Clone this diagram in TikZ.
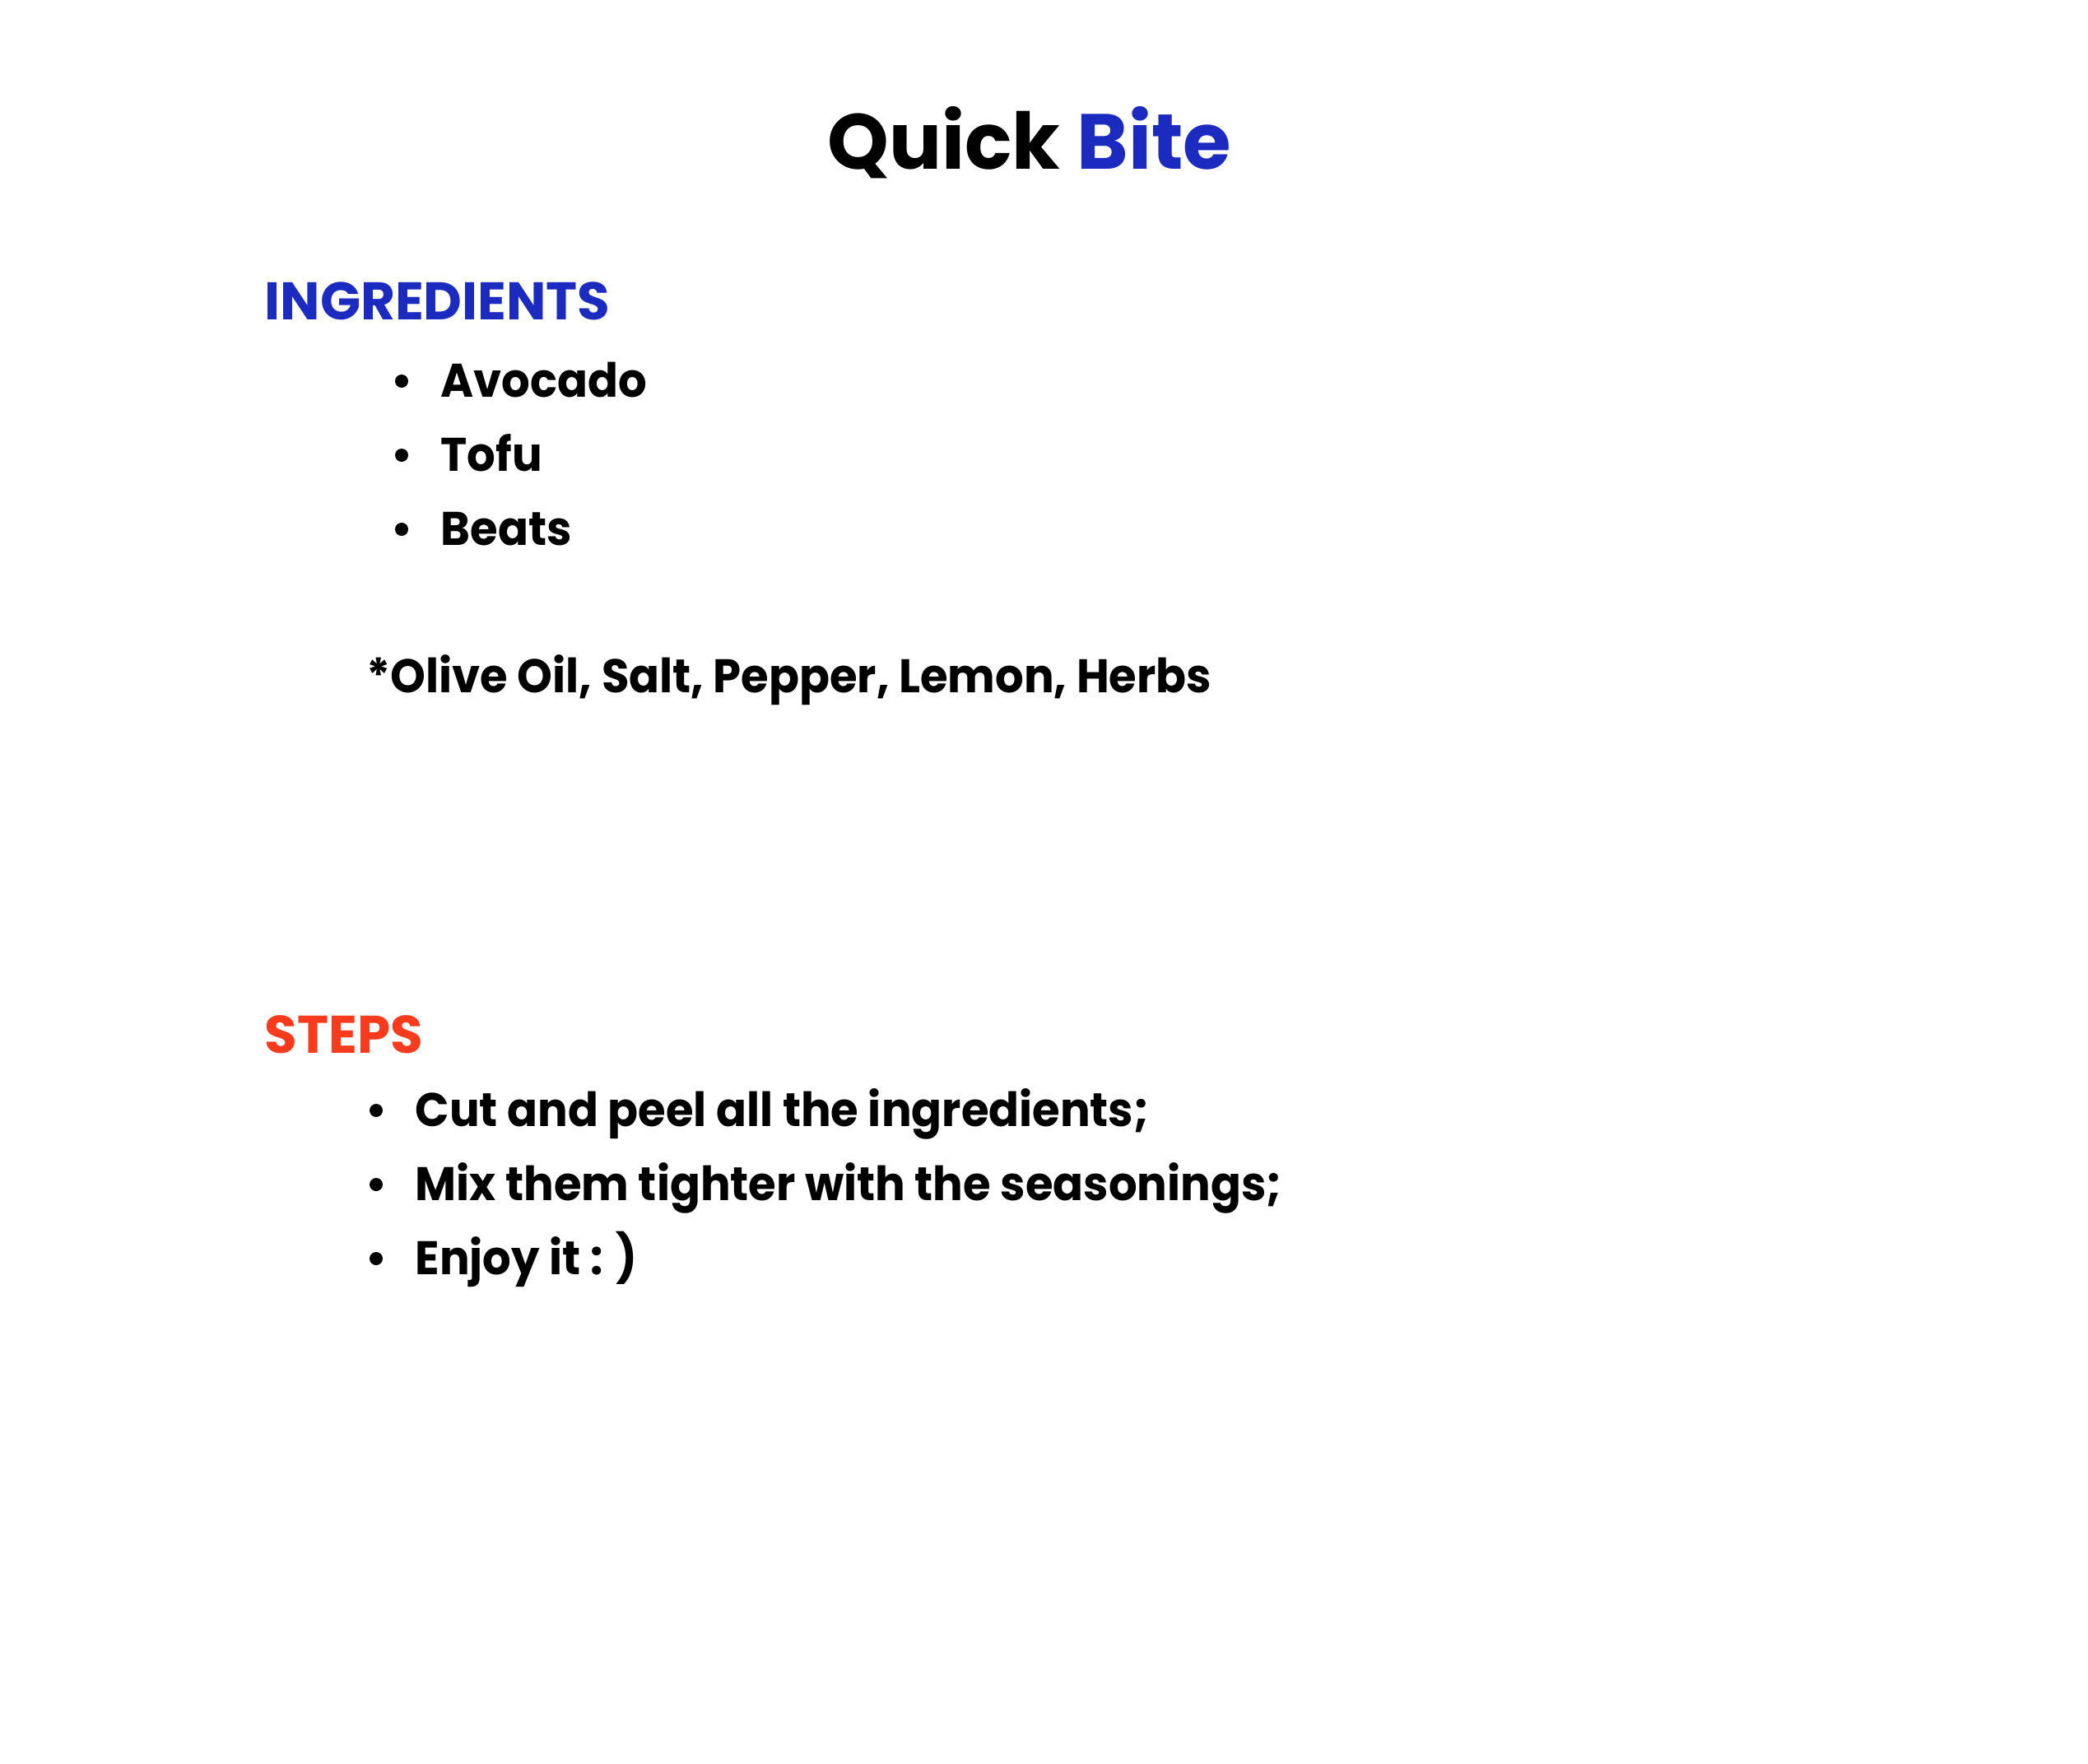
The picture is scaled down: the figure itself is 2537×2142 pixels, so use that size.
\documentclass[tikz,border=0pt]{standalone}
\usepackage{fontspec}
\setmainfont{Poppins}
\usepackage{xcolor}
\usetikzlibrary{positioning}
\definecolor{titleblue}{HTML}{1C2BBF}
\definecolor{stepred}{HTML}{F83A1D}
\tikzset{
  heading/.style={anchor=base west, inner sep=0pt, font=\fontsize{18.3}{22}\selectfont\bfseries},
  item/.style={anchor=base west, inner sep=0pt,
    font=\fontsize{16.3}{20}\selectfont\bfseries\addfontfeatures{FakeStretch=0.95}},
  bulletdot/.style={fill=black}
}
\def\bulletat#1{\fill[bulletdot] ([shift={(-47,-19)}]#1.base west) circle (0.08cm)}
\begin{document}
\begin{tikzpicture}[x=0.01cm,y=-0.01cm]
  \useasboundingbox[fill=white] (0,0) rectangle (2537,2142);
  % title
  \node[anchor=base, inner sep=0pt, font=\fontsize{27}{32}\selectfont\bfseries] (title) at (1251,205)
    {Quick \textcolor{titleblue}{Bite}};
  % ingredients
  \node[heading, text=titleblue] (ingr) at (321,388) {INGREDIENTS};
  \node[item] (avocado) at (535,482) {Avocado};
  \node[item] (tofu) at (535,572) {Tofu};
  \node[item] (beats) at (535,662) {Beats};
  \bulletat{avocado}; \bulletat{tofu}; \bulletat{beats};
  \node[item] (extras) at (445,841) {*Olive Oil, Salt, Pepper, Lemon, Herbs};
  % steps
  \node[heading, text=stepred] (steps) at (321,1279) {STEPS};
  \node[item] (cut) at (504,1368) {Cut and peel all the ingredients;};
  \node[item] (mix) at (504,1458) {Mix them tighter with the seasonings;};
  \node[item] (enjoy) at (504,1548) {Enjoy it : )};
  \bulletat{cut}; \bulletat{mix}; \bulletat{enjoy};
\end{tikzpicture}
\end{document}
